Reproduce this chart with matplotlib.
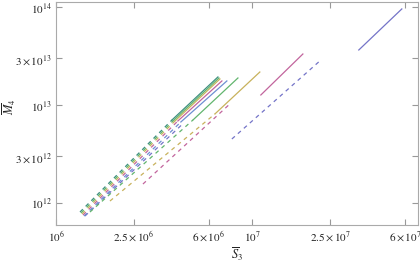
import matplotlib
matplotlib.use("Agg")
import matplotlib.pyplot as plt
import numpy as np

plt.rcParams['mathtext.fontset'] = 'stix'
plt.rcParams['font.family'] = ['Liberation Serif', 'DejaVu Serif']

# Each curve: start/end values (S3, M4). Dashed and solid pieces.
bunch_colors = ["#3f9080", "#62b56e", "#c8b25c", "#c2659d", "#6e8fd2", "#7474c8"]
bunch_dash_S0 = [1.325e6, 1.341e6, 1.357e6, 1.373e6, 1.389e6, 1.405e6]
bunch_dash_M0 = [8.09e11, 7.91e11, 7.73e11, 7.54e11, 7.36e11, 7.36e11]
bunch_dash_S1 = [3.90e6, 3.945e6, 4.04e6, 4.18e6, 4.33e6, 4.45e6]
bunch_dash_M1 = [7.05e12, 6.89e12, 6.89e12, 6.89e12, 6.73e12, 6.50e12]
bunch_solid_S1 = [6.69e6, 6.77e6, 6.85e6, 7.01e6, 7.43e6, None]
bunch_solid_M1 = [1.94e13, 1.894e13, 1.85e13, 1.766e13, 1.766e13, None]

# separate curves: dashed pieces
dash_colors = ["#62b56e", "#c8b25c", "#c2659d", "#7474c8"]
dash_S0 = [1.49e6, 1.884e6, 2.775e6, 7.88e6]
dash_M0 = [8.09e11, 1.048e12, 1.563e12, 4.51e12]
dash_S1 = [4.99e6, 6.46e6, 7.79e6, 2.213e7]
dash_M1 = [7.05e12, 8.13e12, 1.052e13, 2.83e13]

# separate curves: solid pieces
solid_colors = ["#62b56e", "#c8b25c", "#c2659d", "#7474c8"]
solid_S0 = [4.99e6, 6.46e6, 1.107e7, 3.495e7]
solid_M0 = [7.05e12, 8.13e12, 1.27e13, 3.66e13]
solid_S1 = [8.46e6, 1.094e7, 1.813e7, 5.79e7]
solid_M1 = [1.894e13, 2.18e13, 3.33e13, 9.61e13]

xticks = [1e6, 2.5e6, 6e6, 1e7, 2.5e7, 6e7]
xticklabels = [r'$10^{6}$', r'$2.5\times10^{6}$', r'$6\times10^{6}$',
               r'$10^{7}$', r'$2.5\times10^{7}$', r'$6\times10^{7}$']
yticks = [1e12, 3e12, 1e13, 3e13, 1e14]
yticklabels = [r'$10^{12}$', r'$3\times10^{12}$', r'$10^{13}$',
               r'$3\times10^{13}$', r'$10^{14}$']

fig = plt.figure(figsize=(4.2, 2.64), dpi=100)
ax = fig.add_axes([0.1333, 0.1466, 0.8619, 0.847])
ax.set_xscale('log')
ax.set_yscale('log')

dash = (0, (3.2, 3.2))
lw = 0.9

# bunch
for i in range(len(bunch_colors) - 1, -1, -1):
    c = bunch_colors[i]
    ax.plot([bunch_dash_S0[i], bunch_dash_S1[i]], [bunch_dash_M0[i], bunch_dash_M1[i]],
            color=c, lw=lw, linestyle=dash)
    if bunch_solid_S1[i] is not None:
        ax.plot([bunch_dash_S1[i], bunch_solid_S1[i]], [bunch_dash_M1[i], bunch_solid_M1[i]],
                color=c, lw=lw)

for i, c in enumerate(dash_colors):
    ax.plot([dash_S0[i], dash_S1[i]], [dash_M0[i], dash_M1[i]], color=c, lw=lw, linestyle=dash)
for i, c in enumerate(solid_colors):
    ax.plot([solid_S0[i], solid_S1[i]], [solid_M0[i], solid_M1[i]], color=c, lw=lw)

ax.set_xlim(1e6, 7e7)
ax.set_ylim(5.92e11, 1.14e14)

ax.xaxis.set_major_locator(matplotlib.ticker.FixedLocator(xticks))
ax.xaxis.set_minor_locator(matplotlib.ticker.NullLocator())
ax.yaxis.set_major_locator(matplotlib.ticker.FixedLocator(yticks))
ax.yaxis.set_minor_locator(matplotlib.ticker.NullLocator())
ax.set_xticklabels(xticklabels)
ax.set_yticklabels(yticklabels)

ax.tick_params(which='both', direction='in', top=True, right=True, length=4,
               width=0.8, color='#999999', labelsize=8, labelcolor='#222222', pad=3)
for s in ax.spines.values():
    s.set_color('#aaaaaa')
    s.set_linewidth(0.8)

ax.set_xlabel(r'$\overline{S}_3$', fontsize=9, color='#222222')
ax.set_ylabel(r'$\overline{M}_4$', fontsize=9, color='#222222')
ax.xaxis.set_label_coords(0.5, -0.088)
ax.yaxis.set_label_coords(-0.105, 0.53)

fig.savefig('out.png', dpi=100)
